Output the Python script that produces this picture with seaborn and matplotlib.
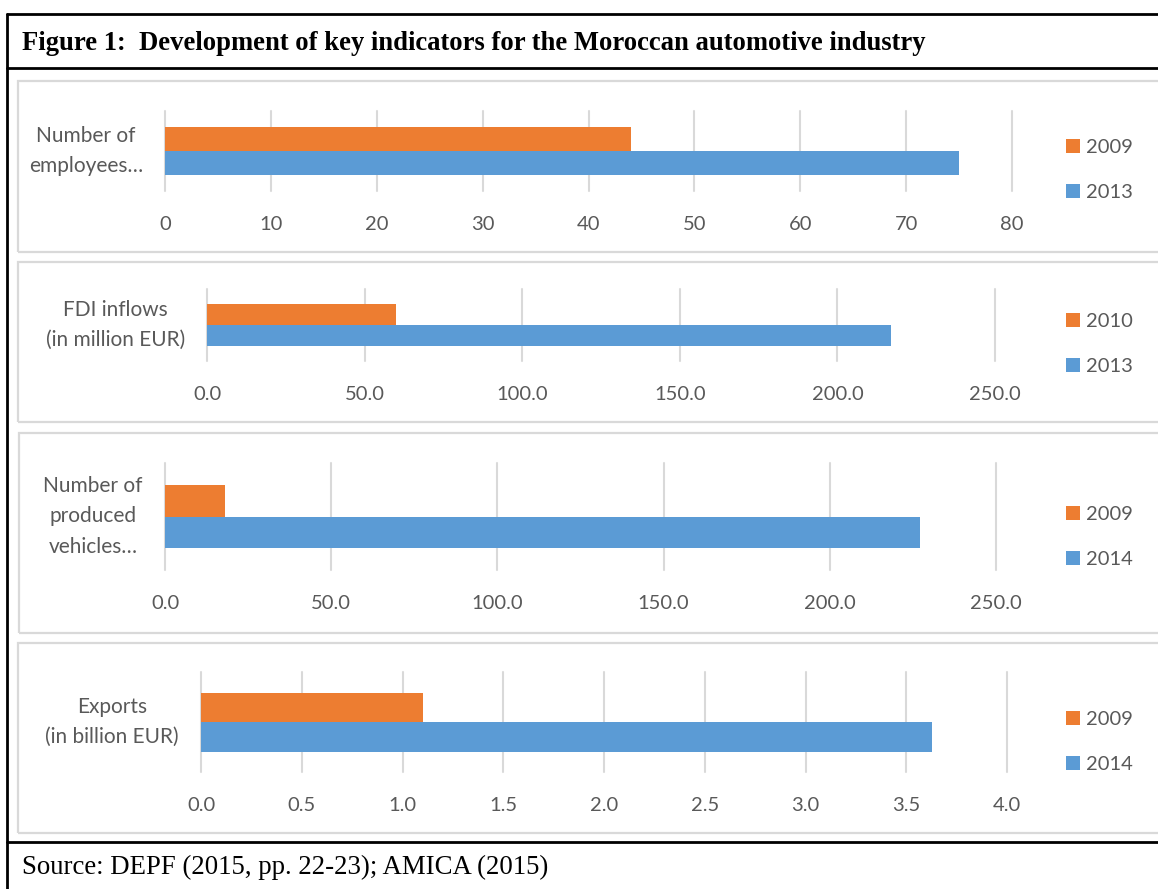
import matplotlib
matplotlib.use("Agg")
import matplotlib.pyplot as plt
import seaborn as sns
import pandas as pd
from matplotlib.patches import Patch, Rectangle
from matplotlib.lines import Line2D

# ---------------- data ----------------
categories = ["Number of\nemployees…", "FDI inflows\n(in million EUR)",
              "Number of\nproduced\nvehicles…", "Exports\n(in billion EUR)"]
years_early = ["2009", "2010", "2009", "2009"]
years_late = ["2013", "2013", "2014", "2014"]
values_early = [44, 60, 18, 1.1]
values_late = [75, 217, 227, 3.63]
axis_max = [80, 250, 250, 4.0]
tick_values = [
    [0, 10, 20, 30, 40, 50, 60, 70, 80],
    [0, 50, 100, 150, 200, 250],
    [0, 50, 100, 150, 200, 250],
    [0, 0.5, 1.0, 1.5, 2.0, 2.5, 3.0, 3.5, 4.0],
]
tick_labels = [
    ["0", "10", "20", "30", "40", "50", "60", "70", "80"],
    ["0.0", "50.0", "100.0", "150.0", "200.0", "250.0"],
    ["0.0", "50.0", "100.0", "150.0", "200.0", "250.0"],
    ["0.0", "0.5", "1.0", "1.5", "2.0", "2.5", "3.0", "3.5", "4.0"],
]
title = "Figure 1:  Development of key indicators for the Moroccan automotive industry"
source = "Source: DEPF (2015, pp. 22-23); AMICA (2015)"

# ---------------- style ----------------
sns.set_style("white")
plt.rcParams["font.family"] = ["Lato", "DejaVu Sans"]

ORANGE = "#ED7D31"
BLUE = "#5B9BD5"
GRID = "#D9D9D9"
TEXT = "#595959"

W, H = 1158, 889
fig = plt.figure(figsize=(W / 100, H / 100), dpi=100)
fig.patch.set_facecolor("white")


def fx(px):
    return px / W


def fy(py):
    return 1 - py / H


# layout in pixels: (left, right, top, bottom) of plotting area
axes_px = [(165, 1012, 111, 191), (207, 995, 289, 361),
           (165, 996, 463, 570), (201, 1007, 672, 772)]
panel_px = [(18, 81, 252), (18, 262, 422), (19, 433, 633), (18, 643, 833)]
legend_px = [(1066, 170), (1066, 344), (1066, 537), (1066, 742)]

# outer black frame
lw_black = 2.0
fig.add_artist(Line2D([fx(7), fx(7)], [fy(14), fy(889)], color="black", lw=lw_black))
fig.add_artist(Line2D([fx(7), fx(1160)], [fy(14), fy(14)], color="black", lw=lw_black))
fig.add_artist(Line2D([fx(7), fx(1160)], [fy(68), fy(68)], color="black", lw=lw_black))
fig.add_artist(Line2D([fx(7), fx(1160)], [fy(842), fy(842)], color="black", lw=lw_black))

fig.text(fx(22), fy(43), title, family="Liberation Serif", weight="bold",
         fontsize=19.2, va="center", ha="left", color="black")
fig.text(fx(22), fy(867), source, family="Liberation Serif",
         fontsize=19.3, va="center", ha="left", color="black")

# panel frames
for (l, t, b) in panel_px:
    fig.add_artist(Rectangle((fx(l), fy(b)), fx(1200) - fx(l), fy(t) - fy(b),
                             transform=fig.transFigure, fill=False,
                             edgecolor=GRID, lw=1.6))

for i in range(4):
    l, r, t, b = axes_px[i]
    ax = fig.add_axes([fx(l), fy(b), (r - l) / W, (b - t) / H])
    df = pd.DataFrame({
        "category": [categories[i], categories[i]],
        "year": [years_early[i], years_late[i]],
        "value": [values_early[i], values_late[i]],
    })
    sns.barplot(data=df, y="category", x="value", hue="year", orient="h",
                palette=[ORANGE, BLUE], width=0.59, ax=ax, legend=False,
                saturation=1, linewidth=0)
    ax.set_xlim(0, axis_max[i])
    ax.set_ylim(0.5, -0.5)
    ax.set_xticks(tick_values[i])
    ax.set_xticklabels(tick_labels[i])
    ax.set_xlabel("")
    ax.set_ylabel("")
    for s in ax.spines.values():
        s.set_visible(False)
    ax.set_axisbelow(True)
    ax.xaxis.grid(True, color=GRID, lw=1.5)
    for gl in ax.get_xgridlines():
        gl.set_clip_on(False)
    ax.tick_params(axis="x", length=0, pad=18, labelsize=14.5, labelcolor=TEXT)
    ax.tick_params(axis="y", length=0, pad=16, labelsize=15, labelcolor=TEXT)
    for lab in ax.get_yticklabels():
        lab.set_multialignment("center")
        lab.set_linespacing(1.65)
        lab.set_verticalalignment("center")
    ax.patch.set_alpha(0)

    handles = [Patch(facecolor=ORANGE, edgecolor="none", label=years_early[i]),
               Patch(facecolor=BLUE, edgecolor="none", label=years_late[i])]
    lx, ly = legend_px[i]
    leg = fig.legend(handles=handles, loc="center left",
                     bbox_to_anchor=(fx(lx), fy(ly)), bbox_transform=fig.transFigure,
                     frameon=False, fontsize=14.5, handlelength=0.68, handleheight=0.68,
                     handletextpad=0.3, labelspacing=1.4, borderpad=0, borderaxespad=0)
    for txt in leg.get_texts():
        txt.set_color(TEXT)

fig.savefig("out.png", dpi=100, facecolor="white")
